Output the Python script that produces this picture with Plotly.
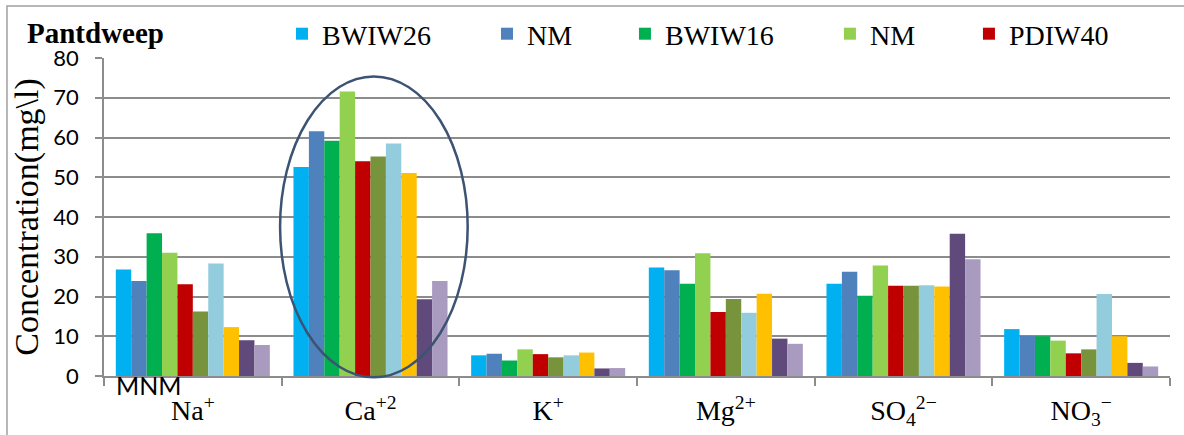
import plotly.graph_objects as go

# Major ions measured at each well, concentration in mg/l
ions = [
    "Na<sup>+</sup>",
    "Ca<sup>+2</sup>",
    "K<sup>+</sup>",
    "Mg<sup>2+</sup>",
    "SO<sub>4</sub><sup>2\u2212</sup>",
    "NO<sub>3</sub><sup>\u2212</sup>",
]

series_names = ["BWIW26", "NM", "BWIW16", "NM", "PDIW40",
                "Series 6", "Series 7", "Series 8", "Series 9", "Series 10"]

bwiw26 = [26.8, 52.6, 5.2, 27.3, 23.2, 11.8]
nm_a = [23.9, 61.6, 5.6, 26.6, 26.2, 10.1]
bwiw16 = [35.9, 59.2, 3.9, 23.2, 20.2, 10.0]
nm_b = [31.0, 71.6, 6.7, 30.9, 27.8, 8.9]
pdiw40 = [23.1, 54.0, 5.5, 16.1, 22.7, 5.7]
series_6 = [16.2, 55.2, 4.7, 19.4, 22.7, 6.7]
series_7 = [28.3, 58.5, 5.2, 15.9, 22.8, 20.6]
series_8 = [12.3, 51.1, 5.9, 20.7, 22.5, 10.0]
series_9 = [9.0, 19.3, 1.9, 9.4, 35.8, 3.3]
series_10 = [7.8, 23.9, 2.0, 8.1, 29.4, 2.4]

all_values = [bwiw26, nm_a, bwiw16, nm_b, pdiw40,
              series_6, series_7, series_8, series_9, series_10]

colors = ["#00B0F0", "#4F81BD", "#00B050", "#92D050", "#C00000",
          "#77933C", "#93CDDD", "#FFC000", "#604A7B", "#A99BC0"]

y_ticks = [0, 10, 20, 30, 40, 50, 60, 70, 80]

SERIF = "Liberation Serif, Times New Roman, DejaVu Serif, serif"
SANS = "Lato, Liberation Sans, sans-serif"
GRID = "#8C8C8C"

# Legend positions (paper x) for the five labelled wells
legend_x = [0.167, 0.3593, 0.4887, 0.681, 0.8114]

fig = go.Figure()
for i, (name, vals, col) in enumerate(zip(series_names, all_values, colors)):
    legend_ref = ("legend" if i == 0 else f"legend{i + 1}") if i < 5 else None
    kw = dict(showlegend=True, legend=legend_ref) if legend_ref else dict(showlegend=False)
    fig.add_trace(go.Bar(
        x=ions, y=vals, name=name,
        marker=dict(color=col, line=dict(width=0)),
        **kw,
    ))

layout_legends = {}
for i, lx in enumerate(legend_x):
    key = "legend" if i == 0 else f"legend{i + 1}"
    layout_legends[key] = dict(
        x=lx, xref="paper", xanchor="left",
        y=1 - 34 / 435, yref="container", yanchor="middle",
        orientation="h", bgcolor="rgba(0,0,0,0)",
        font=dict(family=SERIF, size=28, color="#000000"),
        itemwidth=30,
    )

fig.update_layout(
    width=1184, height=435,
    margin=dict(l=104, r=14, t=58, b=59, autoexpand=False),
    paper_bgcolor="white", plot_bgcolor="white",
    font=dict(family=SERIF, color="#000000"),
    barmode="group", bargap=0.133, bargroupgap=0,
    title=dict(
        text="<b>Pantdweep</b>",
        x=27 / 1184, xref="container", xanchor="left",
        y=1 - 33 / 435, yref="container", yanchor="middle",
        font=dict(family=SERIF, size=29, color="#000000"),
    ),
    **layout_legends,
)

fig.update_xaxes(
    showline=True, linecolor=GRID, linewidth=1.5,
    ticks="outside", tickson="boundaries", ticklen=8, tickcolor=GRID, tickwidth=1.5,
    showgrid=False,
    tickfont=dict(family=SERIF, size=28, color="#000000"),
    ticklabelstandoff=9,
)
fig.update_yaxes(
    range=[0, 80], tickvals=y_ticks,
    showline=True, linecolor=GRID, linewidth=1.5,
    ticks="outside", ticklen=7, tickcolor=GRID, tickwidth=1.5,
    showgrid=True, gridcolor=GRID, gridwidth=1.5,
    zeroline=False,
    tickfont=dict(family=SANS, size=22, color="#000000"),
    ticklabelstandoff=12,
    title=dict(text="Concentration(mg\\l)", standoff=4,
               font=dict(family=SERIF, size=34, color="#000000")),
)

# Ring highlighting the calcium group
fig.add_shape(
    type="circle", xref="x", yref="paper",
    x0=0.491, x1=1.547, y0=-0.004, y1=0.942,
    line=dict(color="#3C5373", width=2.5),
)

# Outer chart frame
fig.add_shape(
    type="rect", xref="paper", yref="paper",
    x0=-0.091, x1=1.03, y0=-0.25, y1=1.1635,
    line=dict(color="#A0A0A0", width=1.5),
    layer="below",
)

fig.add_annotation(
    text="MNM", xref="paper", yref="paper",
    x=0.0094, y=-0.028, xanchor="left", yanchor="middle",
    showarrow=False, font=dict(family=SANS, size=25, color="#000000"),
)

fig.write_html("out.html")
